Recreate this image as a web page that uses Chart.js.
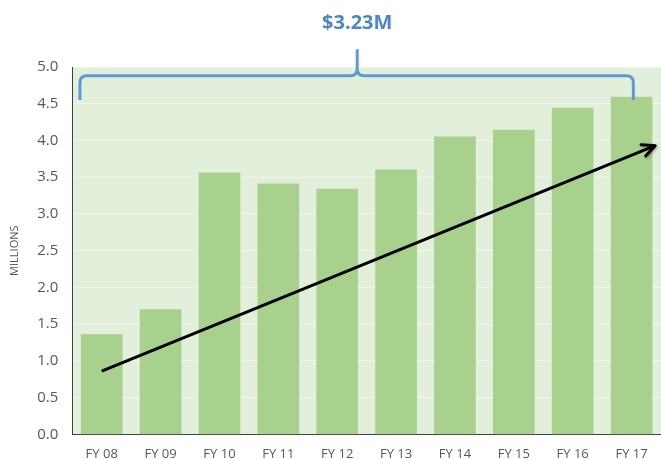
<!DOCTYPE html>
<html lang="en">
<head>
  <meta charset="UTF-8" />
  <title>Revenue by Fiscal Year</title>
  <script src="https://cdn.jsdelivr.net/npm/chart.js"></script>
  <style>
    * { margin: 0; padding: 0; box-sizing: border-box; }
    body { background: #fff; width: 661px; height: 460px; overflow: hidden; }
    .wrap { position: relative; width: 661px; height: 460px; }
  </style>
</head>
<body>
  <div class="wrap"><canvas id="revChart"></canvas></div>

  <script>
    const years = ['FY 08', 'FY 09', 'FY 10', 'FY 11', 'FY 12', 'FY 13', 'FY 14', 'FY 15', 'FY 16', 'FY 17'];
    const revenue = [1.36, 1.70, 3.56, 3.41, 3.34, 3.60, 4.05, 4.14, 4.44, 4.59];
    const yTicks = [0, 0.5, 1, 1.5, 2, 2.5, 3, 3.5, 4, 4.5, 5];

    // trend arrow, in (category index, millions)
    const arrowX = [0, 9.4];
    const arrowY = [0.86, 3.93];

    // brace over the bars and its label
    const braceLabel = '$3.23M';
    const braceX = [-0.37, 4.34, 9.03];
    const braceY = [4.55, 4.88, 5.24];

    const font = "'Open Sans', 'Noto Sans', sans-serif";

    const areaPlugin = {
      id: 'areaBg',
      beforeDraw(chart) {
        const { ctx, chartArea: a } = chart;
        ctx.save();
        ctx.fillStyle = '#E2EFDA';
        ctx.fillRect(a.left, a.top, a.right - a.left, a.bottom - a.top);
        ctx.strokeStyle = '#BFBFBF';
        ctx.lineWidth = 1;
        ctx.beginPath();
        ctx.moveTo(a.left, a.top + 0.5);
        ctx.lineTo(a.right, a.top + 0.5);
        ctx.stroke();
        ctx.restore();
      }
    };

    const annotPlugin = {
      id: 'annot',
      afterDatasetsDraw(chart) {
        const { ctx } = chart;
        const xs = chart.scales.x2, ys = chart.scales.y;
        // arrow head
        const x0 = xs.getPixelForValue(arrowX[0]), y0 = ys.getPixelForValue(arrowY[0]);
        const x1 = xs.getPixelForValue(arrowX[1]), y1 = ys.getPixelForValue(arrowY[1]);
        const ang = Math.atan2(y1 - y0, x1 - x0);
        const len = 14;
        ctx.save();
        ctx.shadowColor = 'rgba(0,0,0,0.35)';
        ctx.shadowBlur = 3;
        ctx.shadowOffsetX = 1;
        ctx.shadowOffsetY = 1;
        ctx.strokeStyle = '#000';
        ctx.lineWidth = 3;
        ctx.lineCap = 'round';
        ctx.lineJoin = 'round';
        ctx.beginPath();
        ctx.moveTo(x1 - len * Math.cos(ang - 0.45), y1 - len * Math.sin(ang - 0.45));
        ctx.lineTo(x1, y1);
        ctx.lineTo(x1 - len * Math.cos(ang + 0.45), y1 - len * Math.sin(ang + 0.45));
        ctx.stroke();
        ctx.restore();

        // brace
        const bl = xs.getPixelForValue(braceX[0]);
        const bc = xs.getPixelForValue(braceX[1]);
        const br = xs.getPixelForValue(braceX[2]);
        const yb = ys.getPixelForValue(braceY[0]);
        const yh = ys.getPixelForValue(braceY[1]);
        const yt = ys.getPixelForValue(braceY[2]);
        const r = 7;
        ctx.save();
        ctx.strokeStyle = '#5B9BD5';
        ctx.lineWidth = 3;
        ctx.beginPath();
        ctx.moveTo(bl, yb);
        ctx.lineTo(bl, yh + r);
        ctx.quadraticCurveTo(bl, yh, bl + r, yh);
        ctx.lineTo(bc - r, yh);
        ctx.quadraticCurveTo(bc, yh, bc, yh - r);
        ctx.lineTo(bc, yt);
        ctx.moveTo(bc, yh - r);
        ctx.quadraticCurveTo(bc, yh, bc + r, yh);
        ctx.lineTo(br - r, yh);
        ctx.quadraticCurveTo(br, yh, br, yh + r);
        ctx.lineTo(br, yb);
        ctx.stroke();
        ctx.fillStyle = '#4A86D0';
        ctx.font = "bold 20px " + font;
        ctx.textAlign = 'center';
        ctx.textBaseline = 'middle';
        ctx.fillText(braceLabel, bc, yt - 26);
        ctx.restore();
      }
    };

    const ctx = document.getElementById('revChart').getContext('2d');
    const chart = new Chart(ctx, {
      data: {
        labels: years,
        datasets: [
          {
            type: 'line',
            label: 'Trend',
            xAxisID: 'x2',
            data: arrowX.map((x, i) => ({ x: x, y: arrowY[i] })),
            borderColor: '#000',
            borderWidth: 3,
            pointRadius: 0,
            order: 0
          },
          {
            type: 'bar',
            label: 'Revenue',
            data: revenue,
            backgroundColor: '#A9D18E',
            barThickness: 41,
            grouped: false,
            order: 1
          }
        ]
      },
      options: {
        responsive: true,
        maintainAspectRatio: false,
        animation: false,
        layout: { padding: { top: 67, left: 8, right: 0, bottom: -14 } },
        plugins: {
          legend: { display: false },
          tooltip: { enabled: false }
        },
        scales: {
          x: {
            offset: true,
            grid: { display: false, drawTicks: false },
            border: { color: '#404040', width: 1 },
            ticks: { color: '#595959', font: { family: font, size: 13 }, padding: 12 }
          },
          x2: {
            type: 'linear',
            display: false,
            min: -0.5,
            max: 9.5
          },
          y: {
            min: 0,
            max: 5,
            afterBuildTicks: s => { s.ticks = yTicks.map(v => ({ value: v })); },
            grid: { color: '#EEF5EA', drawTicks: false },
            border: { color: '#404040', width: 1 },
            ticks: {
              color: '#595959',
              font: { family: font, size: 15 },
              padding: 14,
              callback: v => Number(v).toFixed(1)
            },
            title: {
              display: true,
              text: 'MILLIONS',
              color: '#595959',
              font: { family: font, size: 11 },
              padding: { top: 0, bottom: 2 }
            }
          }
        }
      },
      plugins: [areaPlugin, annotPlugin]
    });
  </script>
</body>
</html>
